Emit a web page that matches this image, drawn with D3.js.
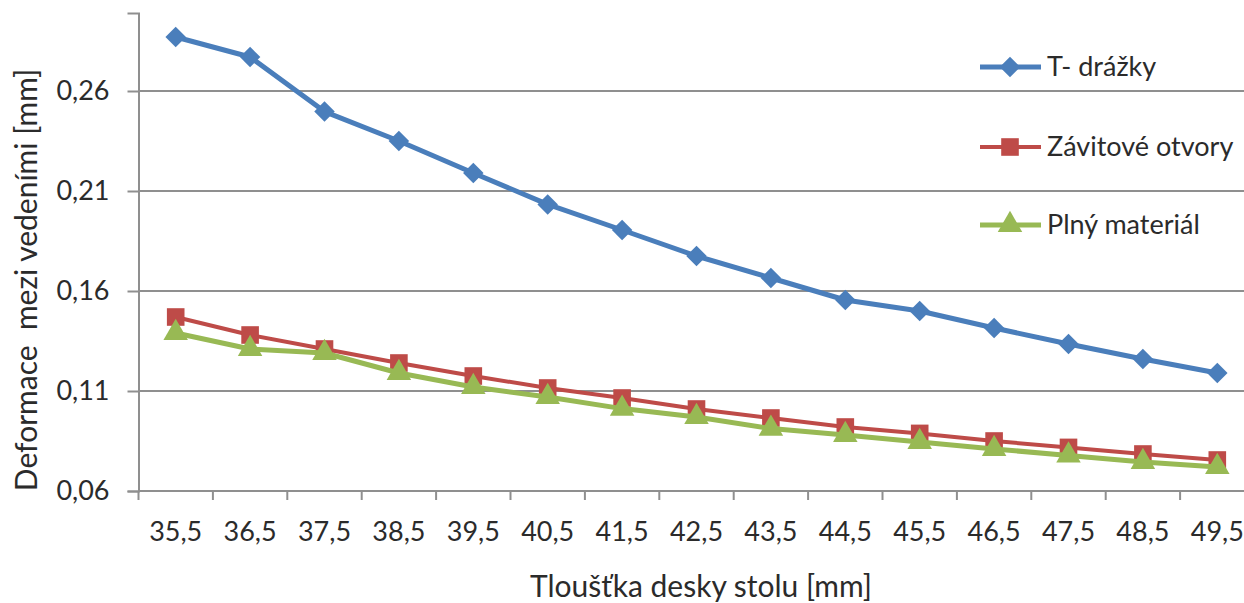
<!DOCTYPE html>
<html><head><meta charset="utf-8">
<script src="https://cdn.jsdelivr.net/npm/d3@7"></script>
<style>
html,body{margin:0;padding:0;background:#fff;}
svg{display:block;}
text{font-family:Lato,"Open Sans",sans-serif;fill:#2b2b2b;}
</style></head>
<body>
<svg id="c" width="1244" height="603"></svg>
<script>
const categories = ["35,5","36,5","37,5","38,5","39,5","40,5","41,5","42,5","43,5","44,5","45,5","46,5","47,5","48,5","49,5"];
const tDrazky = [0.287,0.277,0.2497,0.235,0.219,0.2033,0.1905,0.1775,0.1665,0.1555,0.150,0.1415,0.1335,0.126,0.119];
const zavitove = [0.147,0.138,0.131,0.124,0.1175,0.1115,0.1065,0.101,0.0965,0.092,0.0888,0.085,0.0818,0.0785,0.0755];
const plny = [0.139,0.131,0.129,0.119,0.112,0.107,0.1012,0.097,0.0912,0.088,0.0845,0.081,0.0778,0.0745,0.072];
const yTicks = [0.06,0.11,0.16,0.21,0.26];
const seriesNames = ["T- drážky","Závitové otvory","Plný materiál"];

(function(){
const svg = d3.select("#c");
const plotLeft = 138.5, step = 74.4, plotBottom = 491, plotTop = 13;
const x = d3.scaleBand().domain(categories).range([plotLeft, plotLeft + step*categories.length]).padding(0);
const y = d3.scaleLinear().domain([0.06, 0.06 + (plotBottom-plotTop)/2000]).range([plotBottom, plotTop]);
const cx = c => x(c) + x.bandwidth()/2;
const fmt = v => d3.format(".2f")(v).replace(".", ",");

// gridlines
svg.append("g").selectAll("line").data(yTicks.slice(1)).join("line")
  .attr("x1", plotLeft).attr("x2", 1244).attr("y1", d=>y(d)).attr("y2", d=>y(d))
  .attr("stroke", "#8f8f8f").attr("stroke-width", 2);

// y axis
const ya = svg.append("g").attr("transform", `translate(${plotLeft},0)`)
  .call(d3.axisLeft(y).tickValues(yTicks).tickFormat(fmt).tickSize(11).tickPadding(18));
ya.select(".domain").attr("stroke", "#8f8f8f").attr("stroke-width", 2);
ya.selectAll(".tick line").attr("stroke", "#8f8f8f").attr("stroke-width", 2);
ya.selectAll(".tick text").attr("font-size", 27).attr("fill", "#2b2b2b").style("font-family","Lato");

// x axis
const xa = svg.append("g").attr("transform", `translate(0,${plotBottom})`);
xa.append("line").attr("x1", plotLeft).attr("x2", 1244).attr("y1", 0).attr("y2", 0)
  .attr("stroke", "#8f8f8f").attr("stroke-width", 2);
xa.selectAll("line.t").data(categories).join("line").attr("class","t")
  .attr("x1", d=>x(d)).attr("x2", d=>x(d)).attr("y1", 0).attr("y2", 9)
  .attr("stroke", "#8f8f8f").attr("stroke-width", 2);
xa.selectAll("text").data(categories).join("text")
  .attr("x", d=>cx(d)).attr("y", 50).attr("text-anchor","middle")
  .attr("font-size", 27).text(d=>d);

// titles
svg.append("text").attr("x", 701).attr("y", 597).attr("text-anchor","middle")
  .attr("font-size", 30).text("Tloušťka desky stolu [mm]");
svg.append("text").attr("transform","translate(37,280) rotate(-90)").attr("text-anchor","middle")
  .attr("font-size", 30).style("white-space","pre").text("Deformace  mezi vedeními [mm]");

const series = [
  {name: seriesNames[0], vals: tDrazky, color: "#4a7ebb", w: 5, sym: d3.symbolSquare, size: 210, rot: 45},
  {name: seriesNames[1], vals: zavitove, color: "#be4b48", w: 4, sym: d3.symbolSquare, size: 310, rot: 0},
  {name: seriesNames[2], vals: plny, color: "#98b954", w: 5, sym: d3.symbolTriangle, size: 260, rot: 0}
];
const line = d3.line().x((d,i)=>cx(categories[i])).y(d=>y(d));
series.forEach(s => {
  svg.append("path").datum(s.vals).attr("d", line).attr("fill","none")
    .attr("stroke", s.color).attr("stroke-width", s.w).attr("stroke-linejoin","round");
  svg.append("g").selectAll("path").data(s.vals).join("path")
    .attr("d", d3.symbol().type(s.sym).size(s.size))
    .attr("transform", (d,i)=>`translate(${cx(categories[i])},${y(d)}) rotate(${s.rot})`)
    .attr("fill", s.color);
});

// legend
const legY = [67, 147, 225];
series.forEach((s,i) => {
  const g = svg.append("g").attr("transform", `translate(0,${legY[i]})`);
  g.append("line").attr("x1", 980).attr("x2", 1041).attr("y1",0).attr("y2",0)
    .attr("stroke", s.color).attr("stroke-width", s.w);
  g.append("path").attr("d", d3.symbol().type(s.sym).size(s.size))
    .attr("transform", `translate(1010,0) rotate(${s.rot})`).attr("fill", s.color);
  g.append("text").attr("x", 1047).attr("y", 9).attr("font-size", 27).text(s.name);
});
})();
</script>
</body></html>
